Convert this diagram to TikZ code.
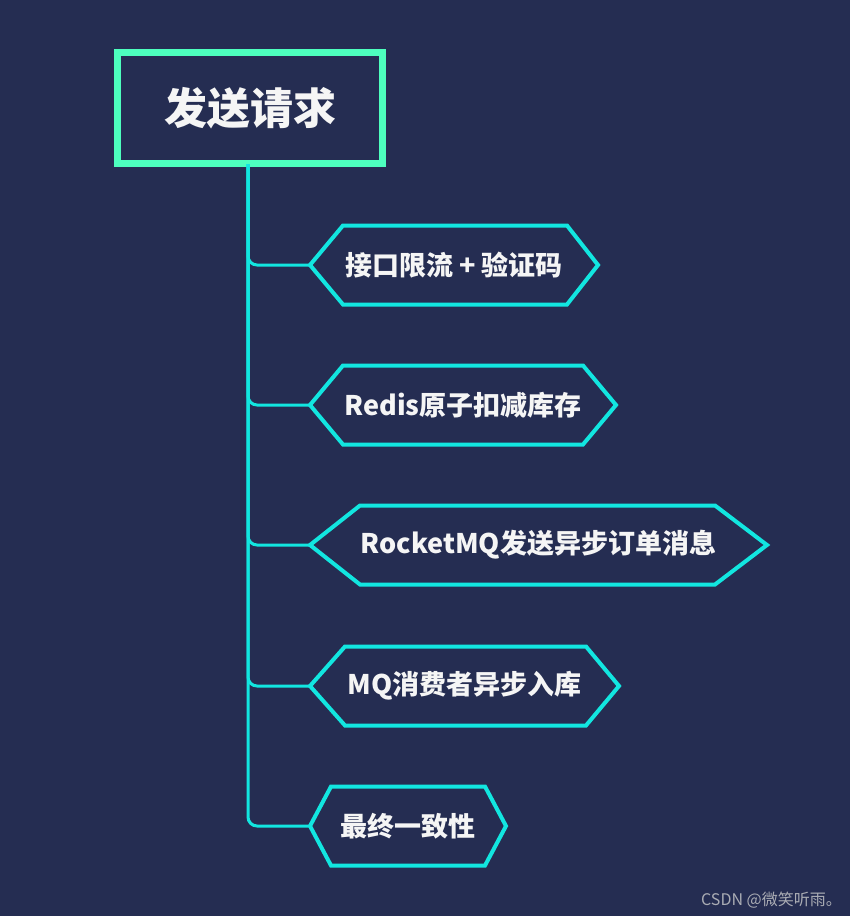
\documentclass[tikz,border=0pt]{standalone}
\usepackage{fontspec}
\setmainfont{Noto Sans CJK SC}
\definecolor{bgc}{RGB}{37,45,82}
\definecolor{rootc}{RGB}{77,255,190}
\definecolor{cyanc}{RGB}{18,230,224}
\definecolor{txtc}{RGB}{245,245,245}
\definecolor{wmc}{RGB}{170,172,180}
\tikzset{
  rootbox/.style={draw=rootc, line width=7pt, minimum width=265pt, minimum height=111pt, inner sep=0pt,
    text=txtc, font=\fontsize{43}{50}\selectfont\bfseries},
  hexline/.style={draw=cyanc, line width=4pt, line join=miter},
  hextext/.style={text=txtc, font=\fontsize{27}{32}\selectfont\bfseries, inner sep=0pt},
  conn/.style={draw=cyanc, line width=3pt, rounded corners=9pt},
  wm/.style={text=wmc, font=\fontsize{16}{19}\selectfont, inner sep=0pt, anchor=east}
}
% #1 name, #2 left x, #3 top-left x, #4 top-right x, #5 right x, #6 y, #7 text
\newcommand\hexitem[7]{%
  \draw[hexline] (#2,#6) -- (#3,#6-39.5) -- (#4,#6-39.5) -- (#5,#6) -- (#4,#6+39.5) -- (#3,#6+39.5) -- cycle;
  \coordinate (#1w) at (#2,#6);
  \node[hextext] (#1) at ({(#2+#5)/2},#6) {#7};
}
\begin{document}
\begin{tikzpicture}[x=1pt,y=-1pt]
\fill[bgc] (0,0) rectangle (850,916);
\useasboundingbox (0,0) rectangle (850,916);
\node[rootbox] (root) at (250,108) {发送请求};
\coordinate (trunk) at (248,164);
\hexitem{h1}{310}{343}{567}{598}{265}{接口限流 + 验证码}
\hexitem{h2}{310}{343}{583}{616}{405}{Redis原子扣减库存}
\hexitem{h3}{310}{360}{715}{767}{545}{RocketMQ发送异步订单消息}
\hexitem{h4}{310}{345}{586}{619}{686}{MQ消费者异步入库}
\hexitem{h5}{310}{331}{485}{506}{826}{最终一致性}
\foreach \h in {h1,h2,h3,h4,h5} {
  \draw[conn] (trunk) |- (\h w);
}
\node[wm] (wmark) at (842,900) {CSDN @微笑听雨。};
\end{tikzpicture}
\end{document}
